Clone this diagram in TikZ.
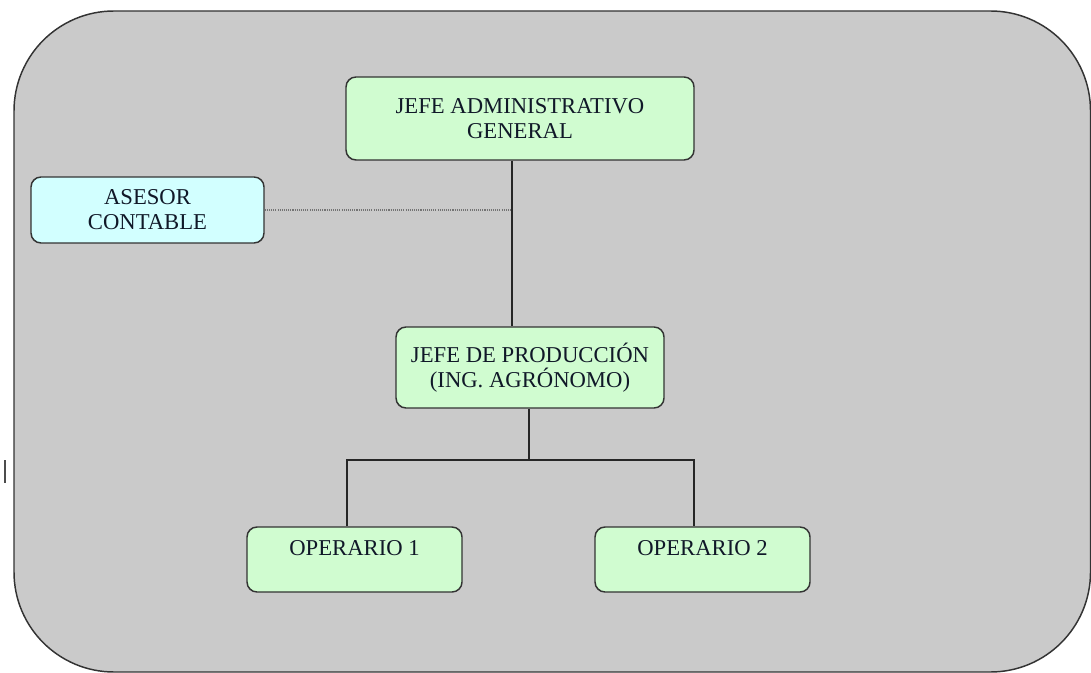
\documentclass[tikz,border=0pt]{standalone}
\usepackage{fontspec}
\setmainfont{Liberation Serif}
\definecolor{bggray}{HTML}{CACACA}
\definecolor{boxgreen}{HTML}{D0FCD0}
\definecolor{boxcyan}{HTML}{D2FFFF}
\definecolor{edge}{HTML}{333333}
\definecolor{txt}{HTML}{101828}
\begin{document}
\begin{tikzpicture}[x=0.75pt,y=-0.75pt,
  orgbox/.style={draw=edge, line width=1.1pt, rounded corners=7.5pt, align=center,
    font=\fontsize{17pt}{18.75pt}\selectfont, text=txt, inner sep=0pt},
  conn/.style={draw=black!85, line width=1.1pt},
  dotconn/.style={draw=black!55, line width=0.8pt, dash pattern=on 0.8pt off 0.8pt}]
\useasboundingbox (0,0) rectangle (1091,673);
\path[fill=bggray, draw=edge, line width=1.1pt, rounded corners=75pt] (14,11) rectangle (1090.5,672);
\draw[black!70, line width=1pt] (5,460) -- (5,483);

\node[orgbox, fill=boxgreen, minimum width=261pt, minimum height=62.25pt] (jefe) at (520,118.5) {JEFE ADMINISTRATIVO\\GENERAL};
\node[orgbox, fill=boxcyan, minimum width=174.75pt, minimum height=49.5pt] (asesor) at (147.5,210) {ASESOR\\CONTABLE};
\node[orgbox, fill=boxgreen, minimum width=201pt, minimum height=60.75pt] (prod) at (530,367.5) {JEFE DE PRODUCCIÓN\\(ING. AGRÓNOMO)};
\node[orgbox, fill=boxgreen, minimum width=161.25pt, minimum height=48.75pt] (op1) at (354.5,559.5) {OPERARIO 1\\[-2pt]~};
\node[orgbox, fill=boxgreen, minimum width=161.25pt, minimum height=48.75pt] (op2) at (702.5,559.5) {OPERARIO 2\\[-2pt]~};

\coordinate (mid) at (512,210);
\coordinate (split) at (529,460);
\draw[conn] (jefe.south -| mid) -- (prod.north -| mid);
\draw[dotconn] (asesor.east) -- (mid);
\draw[conn] (prod.south -| split) -- (split);
\draw[conn] (op1.north -| 347,0) |- (split) -| (op2.north -| 694,0);
\end{tikzpicture}
\end{document}
